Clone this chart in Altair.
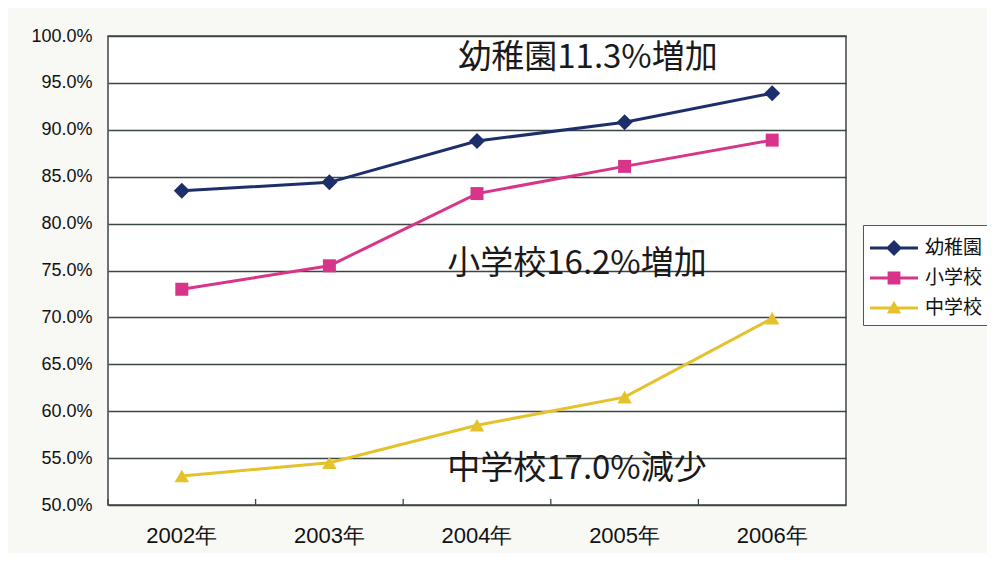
import altair as alt
import pandas as pd

# ---- data ----
years = ["2002年", "2003年", "2004年", "2005年", "2006年"]
series = ["幼稚園", "小学校", "中学校"]
kindergarten = [83.5, 84.4, 88.8, 90.8, 93.9]
elementary = [73.0, 75.5, 83.2, 86.1, 88.9]
junior_high = [53.1, 54.5, 58.5, 61.5, 69.9]
y_ticks = [50, 55, 60, 65, 70, 75, 80, 85, 90, 95, 100]
notes = ["幼稚園11.3%増加", "小学校16.2%増加", "中学校17.0%減少"]
note_years = ["2004年", "2004年", "2004年"]
note_values = [97.7, 75.7, 53.8]

# ---- style ----
colors = ["#1d2f6b", "#d8358a", "#e5c22c"]
marker_shapes = ["diamond", "square", "triangle-up"]
marker_sizes = [256, 169, 210]
note_dx = [111, 100, 100]
legend_paths = [
    "M-1.5,-0.095L1.5,-0.095L1.5,0.095L-1.5,0.095Z M0,-0.5L0.5,0L0,0.5L-0.5,0Z",
    "M-1.5,-0.095L1.5,-0.095L1.5,0.095L-1.5,0.095Z M-0.4,-0.4L0.4,-0.4L0.4,0.4L-0.4,0.4Z",
    "M-1.5,-0.095L1.5,-0.095L1.5,0.095L-1.5,0.095Z M0,-0.45L0.45,0.35L-0.45,0.35Z",
]
GRID = "#3c4643"
W, H = 738, 469

rows = []
for s, vals in zip(series, [kindergarten, elementary, junior_high]):
    for yr, v in zip(years, vals):
        rows.append({"series": s, "year": yr, "value": v})
df = pd.DataFrame(rows)
note_df = pd.DataFrame({"note": notes, "year": note_years, "value": note_values})
tick_df = pd.DataFrame({"year": years})

x_scale = alt.Scale(type="band", domain=years, paddingInner=0, paddingOuter=0)
y_scale = alt.Scale(domain=[50, 100], nice=False, zero=False)
color_scale = alt.Scale(domain=series, range=colors)
shape_scale = alt.Scale(domain=series, range=legend_paths)

x_axis = alt.Axis(title=None, ticks=False, tickSize=0, domain=False, grid=False,
                  labelFontSize=22, labelPadding=20, labelAngle=0,
                  labelColor="#111111", labelFont="Liberation Sans")
y_axis = alt.Axis(title=None, values=y_ticks,
                  labelExpr="format(datum.value, '.1f') + '%'",
                  ticks=False, tickSize=0, domain=False, grid=True,
                  gridColor=GRID, gridWidth=1.3, gridOpacity=1,
                  labelFontSize=18, labelPadding=16,
                  labelColor="#111111", labelFont="Liberation Sans")

legend_def = alt.Legend(
    title=None, orient="none", legendX=755, legendY=189,
    labelFont="Noto Sans CJK JP", labelFontSize=19, labelColor="#111111",
    symbolSize=1024, symbolOffset=8, symbolStrokeWidth=0, symbolOpacity=1,
    padding=7, rowPadding=4, labelOffset=15,
    strokeColor="#555555", fillColor="#ffffff",
)

X = alt.X("year:N", scale=x_scale, axis=x_axis)
Y = alt.Y("value:Q", scale=y_scale, axis=y_axis)
C = alt.Color("series:N", scale=color_scale, legend=legend_def)

base = alt.Chart(df)

lines = base.mark_line(strokeWidth=3).encode(x=X, y=Y, color=C, detail="series:N")

point_layers = []
for s, sh, sz in zip(series, marker_shapes, marker_sizes):
    point_layers.append(
        base.transform_filter(alt.datum.series == s)
        .mark_point(filled=True, opacity=1, shape=sh, size=sz)
        .encode(x=X, y=Y, color=C)
    )

ticks = alt.Chart(tick_df).mark_rule(color=GRID, strokeWidth=1.3).encode(
    x=alt.X("year:N", scale=x_scale, axis=x_axis, bandPosition=0),
    y=alt.value(H - 6),
    y2=alt.value(H),
)

note_layers = []
for n, dx in zip(notes, note_dx):
    note_layers.append(
        alt.Chart(note_df).transform_filter(alt.datum.note == n)
        .mark_text(font="Noto Sans CJK JP", fontSize=33,
                   color="#1a1a1a", dx=dx, align="center", baseline="middle")
        .encode(x=X, y=Y, text="note:N")
    )

# legend-only layer: its rows are filtered out, the legend comes from the scale domains
legend_layer = base.transform_filter("datum.value < 0").mark_point(
    filled=True, size=1024, opacity=1
).encode(
    x=X, y=Y, color=C,
    shape=alt.Shape("series:N", scale=shape_scale, legend=legend_def),
)

chart = alt.layer(
    ticks, lines, *point_layers, *note_layers, legend_layer
).properties(
    width=W, height=H,
    padding={"left": 100, "top": 28, "right": 141, "bottom": 48},
    autosize=alt.AutoSizeParams(type="none"),
    background="#f8f8f5",
).configure_view(stroke=GRID, strokeWidth=1.5, fill="white")

chart.save("out.html", embed_options={"renderer": "svg", "actions": False})
